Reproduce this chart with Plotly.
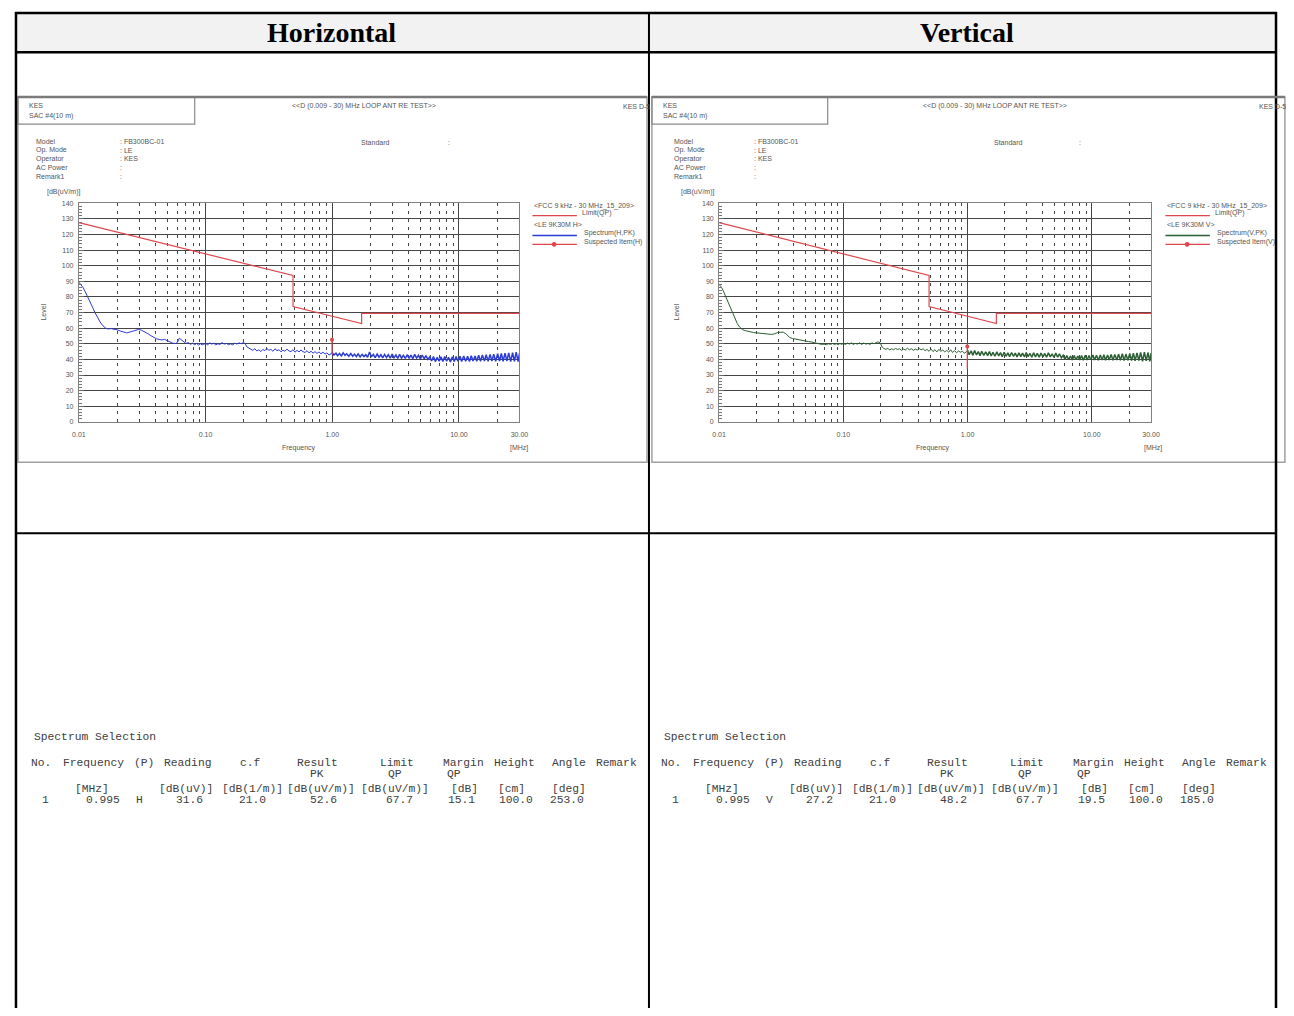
import math
import plotly.graph_objects as go

# page is 1294x1016; browser body keeps an 8px margin, so the figure is 1278x1000
OFF = 8
FW, FH = 1278, 1000
def X(px): return (px - OFF) / FW
def Y(py): return 1 - (py - OFF) / FH

# ---------------- data ----------------
freq_lo = [0.0100,0.0104,0.0108,0.0112,0.0117,0.0122,0.0128,0.0134,0.0140,0.0147,
           0.0155,0.0163,0.0170,0.0180,0.0190,0.0200,0.0212,0.0225,0.0238,0.0250,
           0.0265,0.0280,0.0295,0.0310,0.0330,0.0350,0.0370,0.0390,0.0410,0.0430,
           0.0450,0.0475,0.0500,0.0525,0.0550,0.0580,0.0600,0.0620,0.0645,0.0670,
           0.0700,0.0730,0.0760,0.0790,0.0820,0.0850,0.0880,0.0910,0.0940,0.0970]
freq_mid = [0.100,0.104,0.108,0.112,0.116,0.120,0.125,0.130,0.135,0.140,
            0.146,0.152,0.158,0.164,0.170,0.177,0.184,0.191,0.198,0.205,
            0.212,0.220,0.228,0.236,0.245,0.254,0.263,0.273,0.283,0.294,
            0.305,0.316,0.328,0.340,0.353,0.366,0.380,0.394,0.408,0.423,
            0.439,0.455,0.472,0.490,0.508,0.527,0.546,0.566,0.587,0.609,
            0.632,0.655,0.680,0.705,0.731,0.758,0.786,0.815,0.845,0.876,
            0.908,0.942,0.977]
freq_hi = [1.00,1.03,1.07,1.10,1.14,1.18,1.22,1.26,1.30,1.35,
           1.40,1.45,1.50,1.55,1.60,1.66,1.72,1.78,1.84,1.90,
           1.97,2.04,2.11,2.18,2.26,2.34,2.42,2.50,2.59,2.68,
           2.77,2.87,2.97,3.07,3.18,3.29,3.40,3.52,3.64,3.77,
           3.90,4.04,4.18,4.32,4.47,4.63,4.79,4.96,5.13,5.31,
           5.49,5.68,5.88,6.08,6.29,6.51,6.74,6.97,7.21,7.46,
           7.72,7.99,8.27,8.56,8.86,9.17,9.49,9.82,10.2,10.5,
           10.9,11.3,11.7,12.1,12.5,12.9,13.4,13.8,14.3,14.8,
           15.3,15.9,16.4,17.0,17.6,18.2,18.8,19.5,20.2,20.9,
           21.6,22.3,23.1,23.9,24.7,25.6,26.5,27.4,28.3,29.3,
           30.0]

h_lo = [89.5,88.0,86.0,83.5,80.5,77.0,73.5,70.0,67.0,64.0,
        61.5,60.0,59.5,59.8,59.2,59.0,58.2,57.6,57.0,57.4,
        58.0,58.8,59.2,58.8,57.8,56.5,55.2,54.0,53.2,52.8,
        52.5,52.8,51.8,51.0,50.4,50.2,51.0,53.6,52.6,51.4,
        50.2,50.8,49.6,50.4,49.4,50.2,49.2,50.0,49.3,49.8]
h_mid = [50.2,49.4,50.6,49.8,50.4,49.2,50.0,49.6,50.8,49.8,
         50.2,49.4,50.0,49.2,50.4,49.8,50.6,50.0,50.8,50.2,
         48.0,47.2,46.6,45.8,46.8,45.4,46.2,45.0,46.4,45.6,
         47.0,45.8,46.4,45.2,46.8,45.6,46.2,44.8,46.0,45.2,
         46.6,45.4,45.0,46.2,44.6,45.8,44.8,46.0,45.0,44.4,
         45.6,44.2,45.2,44.0,45.0,43.8,44.8,43.6,44.6,43.4,
         44.2,42.8,43.6]
h_hi = [44.5,42.8,44.0,42.4,43.8,42.2,44.2,42.6,43.6,42.0,
        43.8,42.0,43.4,41.8,43.6,41.6,43.2,41.8,43.0,41.4,
        44.8,41.6,43.2,41.2,43.4,41.4,43.0,41.0,43.2,41.2,
        43.0,40.8,43.4,41.0,42.8,40.6,43.2,40.8,42.6,40.6,
        43.0,40.6,42.8,40.4,43.2,40.8,42.6,40.2,42.8,40.4,
        42.4,40.0,41.6,39.0,41.8,38.6,41.4,38.8,41.6,38.6,
        41.8,38.8,41.4,38.4,41.6,38.6,41.8,38.8,42.0,38.6,
        42.2,38.8,42.0,38.6,42.4,39.0,42.2,38.8,42.6,38.8,
        42.8,39.0,43.0,38.8,43.2,39.0,43.4,38.8,43.6,39.0,
        43.8,38.8,44.0,39.0,44.2,38.6,44.4,38.8,44.6,38.6,
        43.8]

v_lo = [88.0,86.5,84.0,81.0,77.5,74.0,70.0,66.0,63.0,60.5,
        59.0,58.4,58.0,57.6,57.2,57.0,56.8,56.6,56.4,56.2,
        56.0,56.4,57.2,57.4,57.4,56.0,54.0,53.4,53.0,52.6,
        52.2,52.0,51.8,51.4,51.2,50.8,50.6,50.2,50.0,49.6,
        49.8,49.4,50.0,49.6,50.2,49.6,50.0,49.4,50.2,49.6]
v_mid = [50.2,49.6,50.4,49.8,50.6,49.6,50.2,49.8,50.6,49.6,
         50.4,49.8,50.2,49.6,50.6,50.0,50.8,51.2,50.6,48.0,
         47.0,46.4,47.2,46.0,46.8,46.2,47.0,46.4,46.8,45.8,
         46.6,46.0,47.2,46.2,46.8,45.8,46.6,46.0,47.0,46.2,
         46.8,45.6,46.4,45.2,46.6,45.0,46.2,44.8,46.4,45.2,
         46.0,44.8,45.8,44.6,46.2,44.4,45.6,44.2,45.4,44.6,
         45.2,44.0,44.8]
v_hi = [45.8,43.0,45.4,42.6,45.6,42.8,45.0,42.4,45.2,42.6,
        44.8,42.4,45.0,42.2,44.6,42.0,44.8,42.2,44.4,41.8,
        44.6,42.0,44.2,41.8,44.4,42.0,44.0,41.6,44.2,41.8,
        44.0,41.6,44.4,41.8,43.8,41.4,44.2,41.6,43.8,41.4,
        44.0,41.6,43.8,41.4,44.2,41.6,43.6,41.2,44.0,41.4,
        43.6,41.0,42.6,40.0,42.4,39.8,42.2,39.6,42.4,39.8,
        42.2,39.6,42.4,39.4,42.6,39.6,42.4,39.8,42.8,39.6,
        42.6,39.4,42.8,39.6,43.0,39.4,42.8,39.6,43.2,39.4,
        43.2,39.6,43.4,39.4,43.6,39.2,43.4,39.4,43.8,39.2,
        44.0,39.0,44.2,39.2,44.4,38.8,44.6,39.0,44.4,38.8,
        44.0]

limit_freq = [0.01, 0.49, 0.49, 1.705, 1.705, 30.0]
limit_lvl = [127.6, 93.8, 73.8, 63.0, 69.5, 69.5]

sus_freq = 0.995
h_sus_span = [43.0, 53.0]
h_sus_result = 52.6
v_sus_span = [34.0, 50.0]
v_sus_result = 48.2

x_ticks = [0.01, 0.1, 1, 10, 30]
x_ticktext = ["0.01", "0.10", "1.00", "10.00", "30.00"]
x_minor = [0.02,0.03,0.04,0.05,0.06,0.07,0.08,0.09,
           0.2,0.3,0.4,0.5,0.6,0.7,0.8,0.9,
           2,3,4,5,6,7,8,9,20]
y_ticks = [0,10,20,30,40,50,60,70,80,90,100,110,120,130,140]

info_labels = ["Model", "Op. Mode", "Operator", "AC Power", "Remark1"]
info_values = [": FB300BC-01", ": LE", ": KES", ":", ":"]

col_head = ["No.", "Frequency", "(P)", "Reading", "c.f", "Result", "Limit",
            "Margin", "Height", "Angle", "Remark"]
col_sub = ["PK", "QP", "QP"]
col_units = ["[MHz]", "[dB(uV)]", "[dB(1/m)]", "[dB(uV/m)]", "[dB(uV/m)]",
             "[dB]", "[cm]", "[deg]"]
h_row = ["1", "0.995", "H", "31.6", "21.0", "52.6", "67.7", "15.1", "100.0", "253.0"]
v_row = ["1", "0.995", "V", "27.2", "21.0", "48.2", "67.7", "19.5", "100.0", "185.0"]

# ---------------- figure ----------------
fig = go.Figure()

RED = "#e0474c"
BLUE = "#2b3bd6"
GREEN = "#2c5e33"

def add_chart(xa, ya, lo, mid, hi, color, sus_span, sus_res):
    # swept spectrum: low/mid part thin, dense high part slightly heavier
    fig.add_trace(go.Scatter(x=freq_lo + freq_mid + freq_hi[:1], y=lo + mid + hi[:1],
                             mode="lines", line=dict(color=color, width=1.0),
                             xaxis=xa, yaxis=ya, showlegend=False, hoverinfo="skip"))
    fig.add_trace(go.Scatter(x=freq_hi, y=hi, mode="lines",
                             line=dict(color=color, width=1.5),
                             xaxis=xa, yaxis=ya, showlegend=False, hoverinfo="skip"))
    fig.add_trace(go.Scatter(x=limit_freq, y=limit_lvl, mode="lines",
                             line=dict(color=RED, width=1.2),
                             xaxis=xa, yaxis=ya, showlegend=False, hoverinfo="skip"))
    fig.add_trace(go.Scatter(x=[sus_freq, sus_freq], y=sus_span, mode="lines",
                             line=dict(color=RED, width=1.2),
                             xaxis=xa, yaxis=ya, showlegend=False, hoverinfo="skip"))
    fig.add_trace(go.Scatter(x=[sus_freq], y=[sus_res], mode="markers",
                             marker=dict(color=RED, size=4, symbol="circle"),
                             xaxis=xa, yaxis=ya, showlegend=False, hoverinfo="skip"))

add_chart("x", "y", h_lo, h_mid, h_hi, BLUE, h_sus_span, h_sus_result)
add_chart("x2", "y2", v_lo, v_mid, v_hi, GREEN, v_sus_span, v_sus_result)

GRID = "#454545"
SMALL = dict(family="Liberation Sans", size=7, color="#555")

def xaxis_cfg(l, r):
    return dict(type="log", range=[-2, math.log10(30)], domain=[X(l), X(r)],
                tickvals=x_ticks, ticktext=x_ticktext, showgrid=True,
                gridcolor=GRID, gridwidth=1, showline=True, mirror=True,
                linecolor="#808080", linewidth=1, ticks="", zeroline=False,
                tickfont=SMALL, ticklabelstandoff=6, fixedrange=True,
                minor=dict(tickvals=x_minor, showgrid=True, gridcolor=GRID,
                           gridwidth=1, griddash="3px,5px", ticks=""))

def yaxis_cfg():
    return dict(range=[0, 140], domain=[Y(420.7), Y(200.7)], tickvals=y_ticks,
                showgrid=True, gridcolor=GRID, gridwidth=1.4, showline=True,
                mirror=True, linecolor="#808080", linewidth=1, zeroline=False,
                ticks="inside", ticklen=5, tickcolor="#666", tickfont=SMALL,
                ticklabelstandoff=3, fixedrange=True,
                minor=dict(dtick=2, ticks="inside", ticklen=3, tickcolor="#777"))

xa1 = xaxis_cfg(72.7, 518.8); xa1["anchor"] = "y"
xa2 = xaxis_cfg(721, 1158.5); xa2["anchor"] = "y2"
ya1 = yaxis_cfg(); ya1["anchor"] = "x"
ya2 = yaxis_cfg(); ya2["anchor"] = "x2"

shapes = []
annots = []

def rect(x0, y0, x1, y1, color, width, fill=None):
    shapes.append(dict(type="rect", xref="paper", yref="paper", x0=X(x0), x1=X(x1),
                       y0=Y(y1), y1=Y(y0), line=dict(color=color, width=width),
                       fillcolor=fill if fill else "rgba(0,0,0,0)", layer="below"))

def line(x0, y0, x1, y1, color, width, layer="above"):
    shapes.append(dict(type="line", xref="paper", yref="paper", x0=X(x0), x1=X(x1),
                       y0=Y(y0), y1=Y(y1), line=dict(color=color, width=width),
                       layer=layer))

def text(x, y, s, font=SMALL, xanchor="left", angle=0):
    annots.append(dict(xref="paper", yref="paper", x=X(x), y=Y(y), text=s,
                       showarrow=False, xanchor=xanchor, yanchor="middle",
                       font=font, textangle=angle))

# table header background and grid
rect(8, 8, 1286, 48, "rgba(0,0,0,0)", 0, fill="#f2f2f2")
line(8, 9, 1286, 9, "#000", 2.5)
line(8, 48.5, 1286, 48.5, "#000", 2.5)
line(8, 533, 1286, 533, "#000", 2)
line(9, 8, 9, 1016, "#000", 2.5)
line(650, 8, 650, 1016, "#000", 2)
line(1285, 8, 1285, 1016, "#000", 2.5)
HEAD = dict(family="Liberation Serif", size=28, color="#000")
text(329, 28.5, "<b>Horizontal</b>", HEAD, "center")
text(972, 28.5, "<b>Vertical</b>", HEAD, "center")

def chart_frame(fx0, fx1, box_r, lab_x, col_x, std_x, stdc_x, title_c, kes_x,
                ylab_x, dbu_x, freq_x, mhz_x, leg_x, pol, leg_color):
    rect(fx0, 93.5, fx1, 461.5, "#a0a0a0", 1.5)
    line(fx0, 93.5, fx1, 93.5, "#7a7a7a", 2.5)
    rect(fx0, 93.5, box_r, 121, "#8a8a8a", 1.2)
    text(fx0 + 9, 102, "KES")
    text(fx0 + 9, 113, "SAC #4(10 m)")
    text(title_c, 103, "&lt;&lt;D (0.009 - 30) MHz LOOP ANT RE TEST&gt;&gt;", SMALL, "center")
    text(kes_x, 103, "KES D-5")
    for i, (lb, vl) in enumerate(zip(info_labels, info_values)):
        yy = 138 + i * 9
        text(lab_x, yy, lb)
        text(col_x, yy, vl)
    text(std_x, 139, "Standard", SMALL, "center")
    text(stdc_x, 139, ":", SMALL, "center")
    text(dbu_x, 189.5, "[dB(uV/m)]", SMALL, "center")
    text(ylab_x, 310, "Level", SMALL, "center", -90)
    text(freq_x, 447, "Frequency", SMALL, "center")
    text(mhz_x, 447, "[MHz]", SMALL, "center")
    # legend
    text(leg_x, 203, "&lt;FCC 9 kHz - 30 MHz_15_209&gt;")
    line(leg_x, 213, leg_x + 45, 213, RED, 1.2)
    text(leg_x + 48, 210.5, "Limit(QP)")
    text(leg_x, 222, "&lt;LE 9K30M %s&gt;" % pol)
    line(leg_x, 233, leg_x + 45, 233, leg_color, 1.5)
    text(leg_x + 50, 230.5, "Spectrum(%s,PK)" % pol)
    line(leg_x, 242, leg_x + 45, 242, RED, 1.2)
    shapes.append(dict(type="circle", xref="paper", yref="paper",
                       x0=X(leg_x + 20), x1=X(leg_x + 24), y0=Y(244), y1=Y(240),
                       line=dict(color=RED, width=1), fillcolor=RED))
    text(leg_x + 50, 240, "Suspected Item(%s)" % pol)

chart_frame(11, 648, 190, 27, 112, 373, 448, 361, 622,
            37, 58, 296, 518, 532, "H", BLUE)
chart_frame(653, 1294, 831, 673, 754, 1014, 1087, 1000, 1266,
            678, 700, 938, 1160, 1173, "V", GREEN)

# spectrum selection tables
MONO = dict(family="Liberation Mono", size=11.3, color="#404040")
head_cx = [34, 87.5, 138.5, 183, 246.5, 314, 394.5, 462.5, 513.5, 569, 617.5]
sub_cx = [314, 393, 453]
unit_cx = [86, 181, 248.5, 317.5, 392.5, 463.5, 510.5, 569]
row_rx = [44, 116, 140, 200, 264, 336, 413, 476, 535, 586]

def sel_table(dx, row):
    text(25 + dx, 738.5, "Spectrum Selection", MONO)
    for s, cx in zip(col_head, head_cx):
        text(cx + dx, 764, s, MONO, "center")
    for s, cx in zip(col_sub, sub_cx):
        text(cx + dx, 775, s, MONO, "center")
    for s, cx in zip(col_units, unit_cx):
        text(cx + dx, 790.5, s, MONO, "center")
    for s, rx in zip(row, row_rx):
        text(rx + dx, 802, s, MONO, "right")

sel_table(0, h_row)
sel_table(638, v_row)

fig.update_layout(width=FW, height=FH, margin=dict(l=0, r=0, t=0, b=0),
                  paper_bgcolor="white", plot_bgcolor="white",
                  xaxis=xa1, yaxis=ya1, xaxis2=xa2, yaxis2=ya2,
                  shapes=shapes, annotations=annots, showlegend=False)

fig.write_html("out.html", config={"displayModeBar": False})
